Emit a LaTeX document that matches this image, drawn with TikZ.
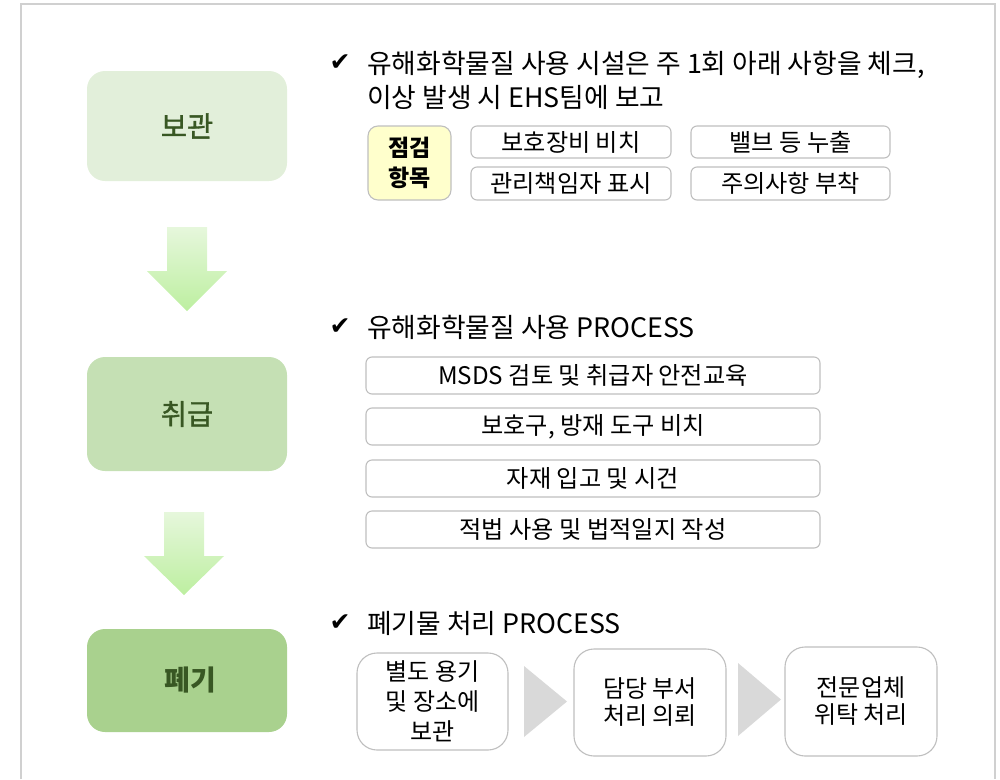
\documentclass[tikz,border=0pt]{standalone}
\usepackage{fontspec}
\setmainfont{Noto Sans CJK KR}
\newfontfamily\symf{DejaVu Sans}
\newfontfamily\medkr[FakeBold=1.2]{Noto Sans CJK KR}
\definecolor{framegray}{HTML}{D0D0D0}
\definecolor{bordergray}{HTML}{BFBFBF}
\definecolor{stgA}{HTML}{E2EFDA}
\definecolor{stgB}{HTML}{C5E0B4}
\definecolor{stgC}{HTML}{A9D18E}
\definecolor{stgtxt}{HTML}{385723}
\definecolor{hlyellow}{HTML}{FFFFCC}
\definecolor{arrtop}{HTML}{E6F7DC}
\definecolor{arrbot}{HTML}{BDEFA0}
\definecolor{chev}{HTML}{D9D9D9}
\begin{document}
\begin{tikzpicture}[x=1pt,y=-1pt,
  stage/.style={rounded corners=18pt, minimum width=200pt, text=stgtxt, inner sep=0pt,
    font=\medkr\fontsize{28.5}{32}\selectfont},
  itembox/.style={draw=bordergray, line width=1.1pt, rounded corners=6pt, fill=white, inner sep=0pt,
    font=\fontsize{24.2}{28}\selectfont},
  procbox/.style={draw=bordergray, line width=1.1pt, rounded corners=20pt, fill=white, inner sep=0pt,
    align=center, font=\fontsize{24}{30}\selectfont},
  checkmark/.style={inner sep=0pt, font=\symf\fontsize{25}{28}\selectfont},
  headtext/.style={inner sep=0pt, anchor=west, align=left, font=\fontsize{26.8}{34}\selectfont},
  downarrow/.style={top color=arrtop, bottom color=arrbot, draw=none},
  chevron/.style={fill=chev, draw=none}
]
\useasboundingbox (0,0) rectangle (1000,779);
\draw[framegray, line width=1.5pt] (21,779) -- (21,4) -- (995,4) -- (995,779);

% stages
\node[stage, fill=stgA, minimum height=110pt] (bogwan) at (187,126) {보관};
\node[stage, fill=stgB, minimum height=114pt] (chwigeup) at (187,414) {취급};
\node[stage, fill=stgC, minimum height=103pt, font=\bfseries\fontsize{28}{32}\selectfont] (pyegi) at (187,680.5) {\hspace*{6pt}폐기};

% down arrows
\shade[downarrow] (167,227) -- (207,227) -- (207,271) -- (227,271) -- (187,311) -- (147,271) -- (167,271) -- cycle;
\shade[downarrow] (164,512) -- (204,512) -- (204,556) -- (224,556) -- (184,595) -- (144,556) -- (164,556) -- cycle;

% section 1
\node[checkmark] (ck1) at (340,63) {✔};
\node[headtext] (h1) at (367,80) {유해화학물질 사용 시설은 주 1회 아래 사항을 체크,\\이상 발생 시 EHS팀에 보고};
\node[draw=bordergray, line width=1.1pt, fill=hlyellow, rounded corners=10pt, minimum width=83pt, minimum height=74pt,
  inner sep=0pt, align=center, font=\bfseries\fontsize{23}{30}\selectfont] (jeomgeom) at (409.5,163) {점검\\항목};
\node[itembox, minimum width=200pt, minimum height=32pt] (i1) at (571,142) {보호장비 비치};
\node[itembox, minimum width=200pt, minimum height=33pt] (i2) at (571,183.5) {관리책임자 표시};
\node[itembox, minimum width=199pt, minimum height=32pt] (i3) at (790.5,142) {밸브 등 누출};
\node[itembox, minimum width=199pt, minimum height=33pt] (i4) at (790.5,183.5) {주의사항 부착};

% section 2
\node[checkmark] (ck2) at (340,327) {✔};
\node[headtext] (h2) at (367,327) {유해화학물질 사용 PROCESS};
\node[itembox, minimum width=454pt, minimum height=37pt] (s1) at (593,375.5) {MSDS 검토 및 취급자 안전교육};
\node[itembox, minimum width=454pt, minimum height=37pt] (s2) at (593,426.5) {보호구, 방재 도구 비치};
\node[itembox, minimum width=454pt, minimum height=37pt] (s3) at (593,478.5) {자재 입고 및 시건};
\node[itembox, minimum width=454pt, minimum height=37pt] (s4) at (593,529.5) {적법 사용 및 법적일지 작성};

% section 3
\node[checkmark] (ck3) at (340,623) {✔};
\node[headtext] (h3) at (367,623) {폐기물 처리 PROCESS};
\node[procbox, minimum width=151pt, minimum height=97pt] (p1) at (432.5,701.5) {별도 용기\\및 장소에\\보관};
\node[procbox, minimum width=152pt, minimum height=107pt, font=\fontsize{24}{27}\selectfont] (p2) at (650,702.5) {담당 부서\\처리 의뢰};
\node[procbox, minimum width=152pt, minimum height=109pt, font=\fontsize{24}{27}\selectfont] (p3) at (861,701.5) {전문업체\\위탁 처리};
\fill[chevron] (524,666) -- (567,701.5) -- (524,737) -- cycle;
\fill[chevron] (738,663) -- (781,699.5) -- (738,736) -- cycle;
\end{tikzpicture}
\end{document}
